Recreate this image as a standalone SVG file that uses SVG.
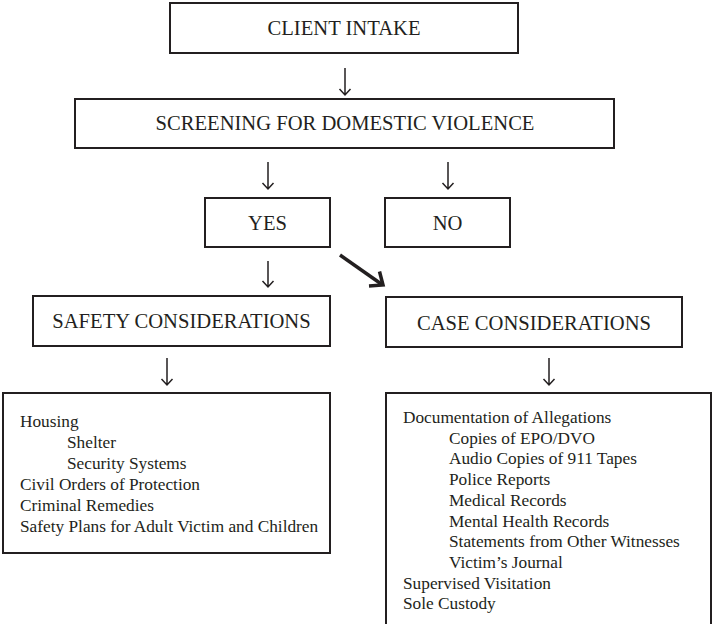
<svg xmlns="http://www.w3.org/2000/svg" width="712" height="624" viewBox="0 0 712 624">
<style>
.box{fill:#fff;stroke:#231f20;stroke-width:2}
.h{font-family:"Liberation Serif","Times New Roman",serif;font-size:20.6px;fill:#231f20;text-anchor:middle}
.t{font-family:"Liberation Serif","Times New Roman",serif;font-size:17.3px;fill:#231f20}
.arr{fill:none;stroke:#231f20;stroke-width:1.5}
.big{fill:none;stroke:#231f20;stroke-width:3.5;stroke-linecap:butt;stroke-linejoin:miter}
</style>
<rect width="712" height="624" fill="#fff"/>
<g id="connectors">
<path class="arr" d="M345 68V95M339.5 89L345 95L350.5 89"/>
<path class="arr" d="M268 162V189M262.5 183L268 189L273.5 183"/>
<path class="arr" d="M448 162V189M442.5 183L448 189L453.5 183"/>
<path class="arr" d="M268 261V287M262.5 281L268 287L273.5 281"/>
<path class="arr" d="M167 358V385M161.5 379L167 385L172.5 379"/>
<path class="arr" d="M549 358V385M543.5 379L549 385L554.5 379"/>
<path class="big" d="M340 255L382 284.5"/>
<path class="big" d="M379.5 271.5L383 285L369 286"/>
</g>
<g id="client-intake">
<rect class="box" x="170" y="3" width="348" height="50"/>
<text class="h" x="344" y="35">CLIENT INTAKE</text>
</g>
<g id="screening">
<rect class="box" x="75" y="99" width="539" height="49"/>
<text class="h" x="345" y="130">SCREENING FOR DOMESTIC VIOLENCE</text>
</g>
<g id="yes">
<rect class="box" x="205" y="198" width="125" height="49"/>
<text class="h" x="267.5" y="230">YES</text>
</g>
<g id="no">
<rect class="box" x="385" y="198" width="125" height="49"/>
<text class="h" x="447.5" y="230">NO</text>
</g>
<g id="safety">
<rect class="box" x="33" y="296" width="297" height="50"/>
<text class="h" x="181.5" y="328">SAFETY CONSIDERATIONS</text>
</g>
<g id="case">
<rect class="box" x="386" y="297" width="296" height="50"/>
<text class="h" x="534" y="330">CASE CONSIDERATIONS</text>
</g>
<g id="safety-list">
<rect class="box" x="3" y="393" width="327" height="160"/>
<text class="t" x="20" y="427">Housing</text>
<text class="t" x="67" y="448">Shelter</text>
<text class="t" x="67" y="469">Security Systems</text>
<text class="t" x="20" y="490">Civil Orders of Protection</text>
<text class="t" x="20" y="511">Criminal Remedies</text>
<text class="t" x="20" y="532">Safety Plans for Adult Victim and Children</text>
</g>
<g id="case-list">
<rect class="box" x="386" y="393" width="325" height="250"/>
<text class="t" x="403" y="423">Documentation of Allegations</text>
<text class="t" x="449" y="443.7">Copies of EPO/DVO</text>
<text class="t" x="449" y="464.4">Audio Copies of 911 Tapes</text>
<text class="t" x="449" y="485.1">Police Reports</text>
<text class="t" x="449" y="505.8">Medical Records</text>
<text class="t" x="449" y="526.5">Mental Health Records</text>
<text class="t" x="449" y="547.2">Statements from Other Witnesses</text>
<text class="t" x="449" y="567.9">Victim’s Journal</text>
<text class="t" x="403" y="588.6">Supervised Visitation</text>
<text class="t" x="403" y="609.3">Sole Custody</text>
</g>
</svg>
